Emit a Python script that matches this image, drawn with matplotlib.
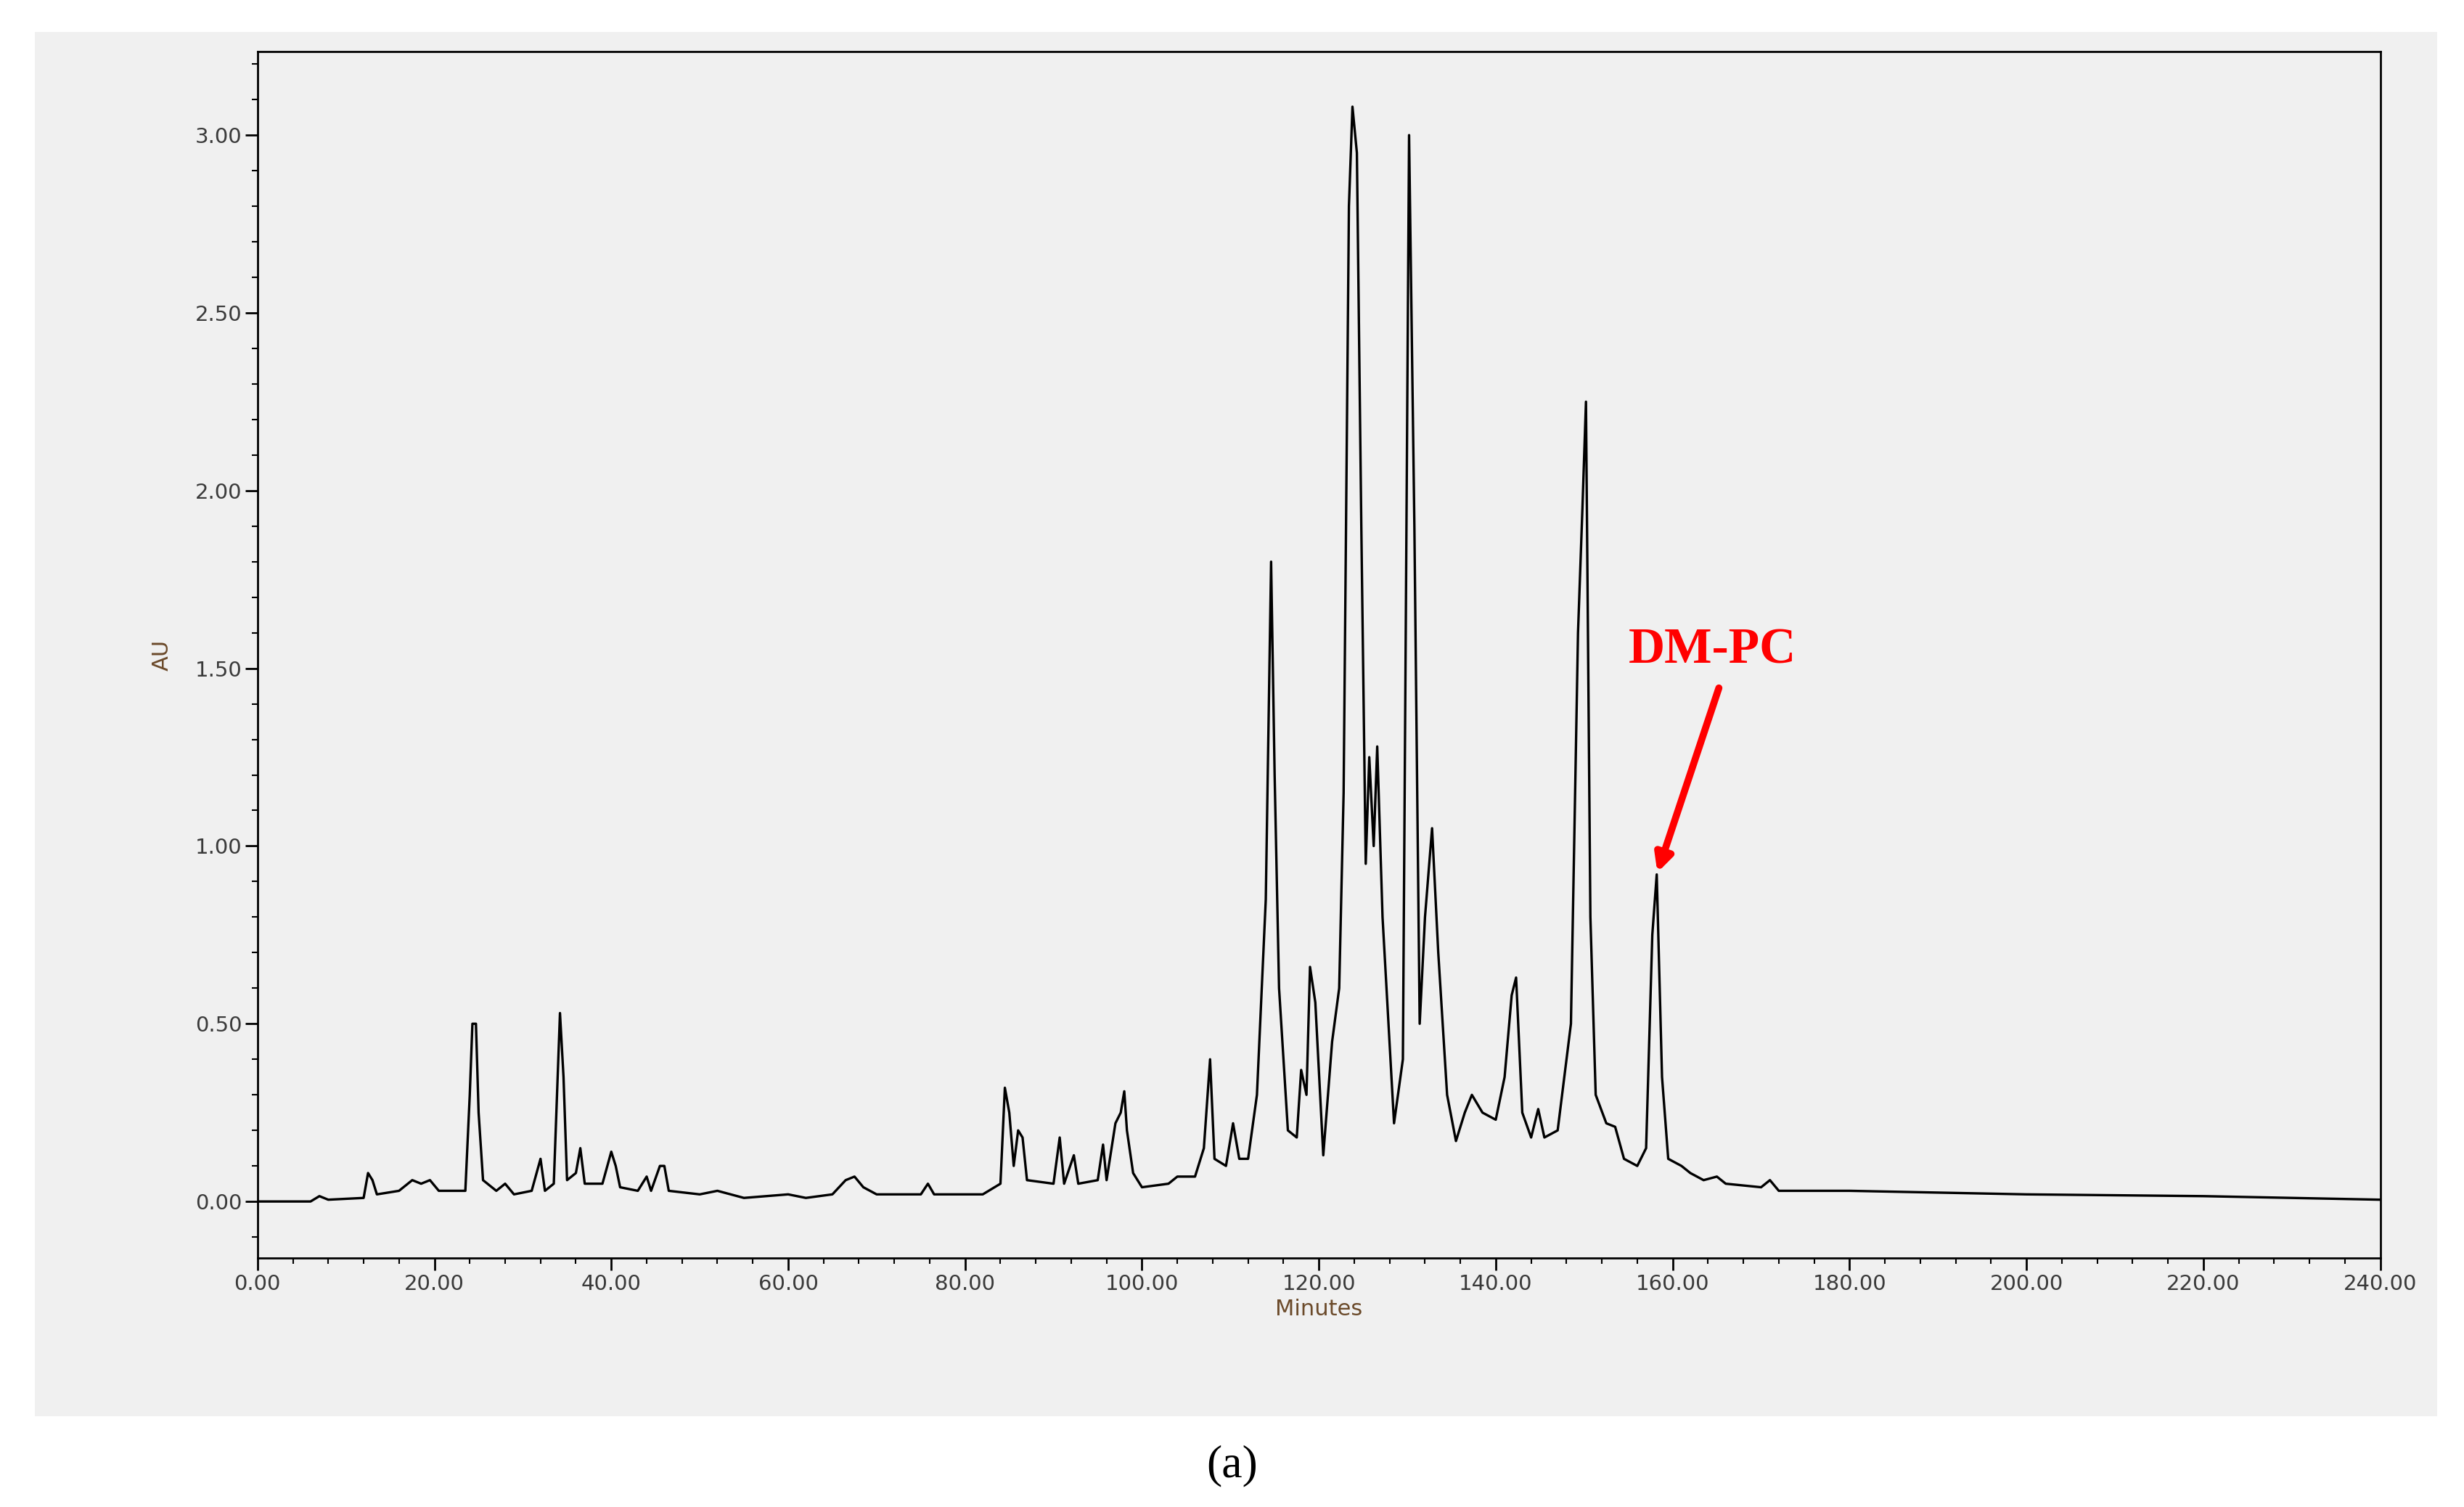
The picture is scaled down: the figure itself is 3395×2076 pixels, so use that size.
import matplotlib
matplotlib.use("Agg")
import matplotlib.pyplot as plt
from matplotlib.ticker import MultipleLocator, FormatStrFormatter

time_min = [0,6,7,8,12,12.5,13,13.5,16,17.5,18.5,19.5,20.5,23.5,24,24.3,24.7,25,25.5,27,28,29,31,32,32.5,33.5,34.2,34.6,35,36,36.5,37,39,40,40.5,41,43,44,44.5,45.5,46,46.5,50,52,55,60,62,65,66.5,67.5,68.5,70,75,75.8,76.5,82,84,84.5,85,85.5,86,86.5,87,90,90.7,91.2,92.3,92.8,95,95.6,96,97,97.6,98,98.3,99,100,103,104,106,107,107.7,108.2,109.5,110.3,111,112,113,114,114.6,115,115.5,116.5,117.5,118,118.6,119,119.6,120.5,121.5,122.3,122.8,123.4,123.8,124.3,124.8,125.3,125.7,126.2,126.6,127.2,128.5,129.5,130.2,130.8,131.4,132,132.8,133.5,134.5,135.5,136.5,137.3,138.5,140,141,141.8,142.3,143,144,144.8,145.5,147,148.5,149.3,149.8,150.2,150.7,151.3,152.5,153.5,154.5,156,157,157.7,158.2,158.8,159.5,161,162,163.5,165,166,170,171,172,180,200,220,240]
au = [0,0,0.015,0.005,0.01,0.08,0.06,0.02,0.03,0.06,0.05,0.06,0.03,0.03,0.3,0.5,0.5,0.25,0.06,0.03,0.05,0.02,0.03,0.12,0.03,0.05,0.53,0.35,0.06,0.08,0.15,0.05,0.05,0.14,0.1,0.04,0.03,0.07,0.03,0.1,0.1,0.03,0.02,0.03,0.01,0.02,0.01,0.02,0.06,0.07,0.04,0.02,0.02,0.05,0.02,0.02,0.05,0.32,0.25,0.1,0.2,0.18,0.06,0.05,0.18,0.05,0.13,0.05,0.06,0.16,0.06,0.22,0.25,0.31,0.2,0.08,0.04,0.05,0.07,0.07,0.15,0.4,0.12,0.1,0.22,0.12,0.12,0.3,0.85,1.8,1.2,0.6,0.2,0.18,0.37,0.3,0.66,0.56,0.13,0.45,0.6,1.15,2.8,3.08,2.95,1.9,0.95,1.25,1.0,1.28,0.8,0.22,0.4,3.0,1.9,0.5,0.8,1.05,0.7,0.3,0.17,0.25,0.3,0.25,0.23,0.35,0.58,0.63,0.25,0.18,0.26,0.18,0.2,0.5,1.6,1.95,2.25,0.8,0.3,0.22,0.21,0.12,0.1,0.15,0.75,0.92,0.35,0.12,0.1,0.08,0.06,0.07,0.05,0.04,0.06,0.03,0.03,0.02,0.015,0.005]

fig = plt.figure(figsize=(33.95, 20.76), dpi=100)
bg = fig.add_axes([0.014, 0.060, 0.975, 0.919])
bg.set_facecolor("#f0f0f0")
bg.set_xticks([]); bg.set_yticks([])
for s in bg.spines.values():
    s.set_visible(False)

ax = fig.add_axes([0.1045, 0.165, 0.8615, 0.801])
ax.set_facecolor("#f0f0f0")
ax.plot(time_min, au, color="black", lw=2.4)
ax.set_xlim(0, 240)
ax.set_ylim(-0.16, 3.236)
ax.xaxis.set_major_locator(MultipleLocator(20))
ax.xaxis.set_minor_locator(MultipleLocator(4))
ax.yaxis.set_major_locator(MultipleLocator(0.5))
ax.yaxis.set_minor_locator(MultipleLocator(0.1))
ax.xaxis.set_major_formatter(FormatStrFormatter("%.2f"))
ax.yaxis.set_major_formatter(FormatStrFormatter("%.2f"))
ax.tick_params(which="major", length=12, width=2, labelsize=21, colors="black", labelcolor="#3a3a3a")
ax.tick_params(which="minor", length=6, width=1.5)
for s in ax.spines.values():
    s.set_linewidth(2)
ax.set_xlabel("Minutes", fontsize=22, color="#6b4a2a", labelpad=4)
ax.set_ylabel("AU", fontsize=22, color="#6b4a2a", labelpad=22)

ax.annotate("", xy=(158.2, 0.92), xytext=(165.3, 1.45),
            arrowprops=dict(arrowstyle="-|>,head_width=0.7,head_length=1.4", color="red", lw=7))
ax.text(164.5, 1.55, "DM-PC", color="red", fontsize=50, fontweight="bold",
        family="Liberation Serif", ha="center", va="center")
fig.text(0.5, 0.027, "(a)", fontsize=46, family="Liberation Serif", ha="center", va="center")
fig.savefig("out.png", dpi=100, facecolor="white")
